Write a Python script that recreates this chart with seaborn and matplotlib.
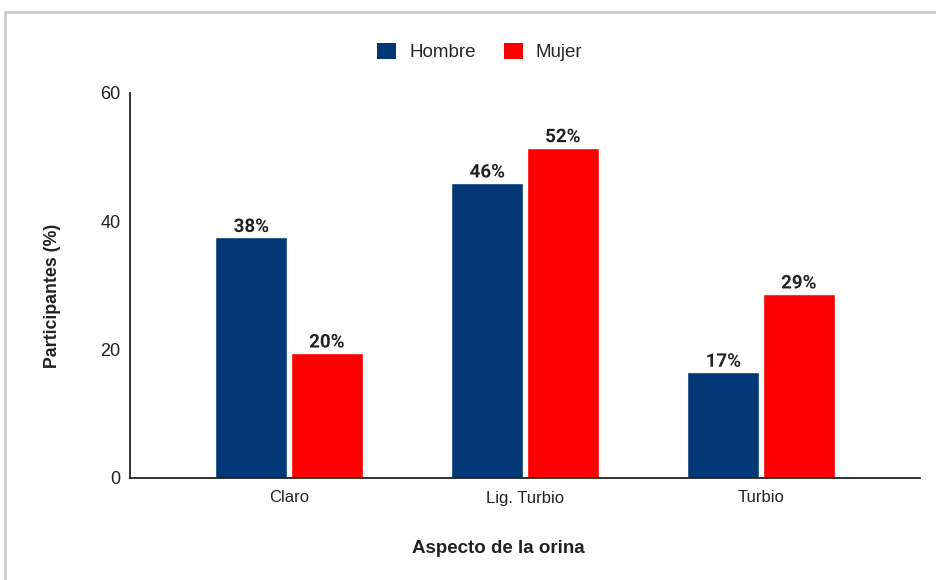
import matplotlib
matplotlib.use("Agg")
import matplotlib.pyplot as plt
import matplotlib.patheffects as pe
from matplotlib.patches import Patch
import seaborn as sns
import pandas as pd

categories = ["Claro", "Lig. Turbio", "Turbio"]
hombre = [37.5, 46.0, 16.5]
mujer = [19.5, 51.5, 28.7]
hombre_labels = ["38%", "46%", "17%"]
mujer_labels = ["20%", "52%", "29%"]
series = ["Hombre", "Mujer"]
colors = ["#023875", "#ff0000"]

df = pd.DataFrame({
    "Aspecto": categories * 2,
    "Sexo": [series[0]] * 3 + [series[1]] * 3,
    "Valor": hombre + mujer,
})

sns.set_theme(style="white")
plt.rcParams["font.family"] = ["Liberation Sans", "DejaVu Sans"]

W, H = 936, 580
fig = plt.figure(figsize=(W / 100, H / 100), dpi=100)
ax = fig.add_axes([130 / W, (H - 478) / H, (920 - 130) / W, (478 - 93) / H])

sns.barplot(data=df, x="Aspecto", y="Valor", hue="Sexo", order=categories,
            hue_order=series, palette=colors, width=0.64, gap=0.05,
            saturation=1, ax=ax, legend=False)

for cont, labs in zip(ax.containers, [hombre_labels, mujer_labels]):
    txts = ax.bar_label(cont, labels=labs, padding=1, fontsize=13.5,
                        fontweight="bold", color="#222222",
                        family=["Roboto", "DejaVu Sans"])
    for t in txts:
        t.set_path_effects([pe.withStroke(linewidth=3, foreground="white")])

ax.set_ylim(0, 60)
ax.set_yticks([0, 20, 40, 60])
ax.set_xlim(-0.674, 2.674)
ax.tick_params(axis="both", length=0, colors="#222222")
ax.tick_params(axis="x", pad=9, labelsize=12)
ax.tick_params(axis="y", pad=7, labelsize=13)
for s in ["top", "right"]:
    ax.spines[s].set_visible(False)
for s in ["left", "bottom"]:
    ax.spines[s].set_color("#222222")
    ax.spines[s].set_linewidth(1.3)

ax.set_xlabel("Aspecto de la orina", fontsize=13.5, fontweight="bold", color="#222222")
ax.xaxis.set_label_coords((498 - 130) / 790, -(540 - 478) / 385)
ax.set_ylabel("Participantes (%)", fontsize=12.8, fontweight="bold", color="#222222")
ax.yaxis.set_label_coords(-(130 - 61) / 790, (478 - 295.5) / 385)

handles = [Patch(facecolor=c, edgecolor="none") for c in colors]
fig.legend(handles, series, loc="center", bbox_to_anchor=(480 / W, 1 - 52 / H),
           ncol=2, frameon=False, fontsize=13.5, handlelength=1.0, handleheight=1.0,
           handletextpad=0.7, columnspacing=1.5)

# screenshot frame border (top and left)
fig.add_artist(plt.Line2D([5 / W, 1], [1 - 12 / H, 1 - 12 / H], color="#cccccc", lw=2,
                          transform=fig.transFigure))
fig.add_artist(plt.Line2D([5 / W, 5 / W], [0, 1 - 12 / H], color="#cccccc", lw=2,
                          transform=fig.transFigure))

fig.savefig("out.png", dpi=100)
